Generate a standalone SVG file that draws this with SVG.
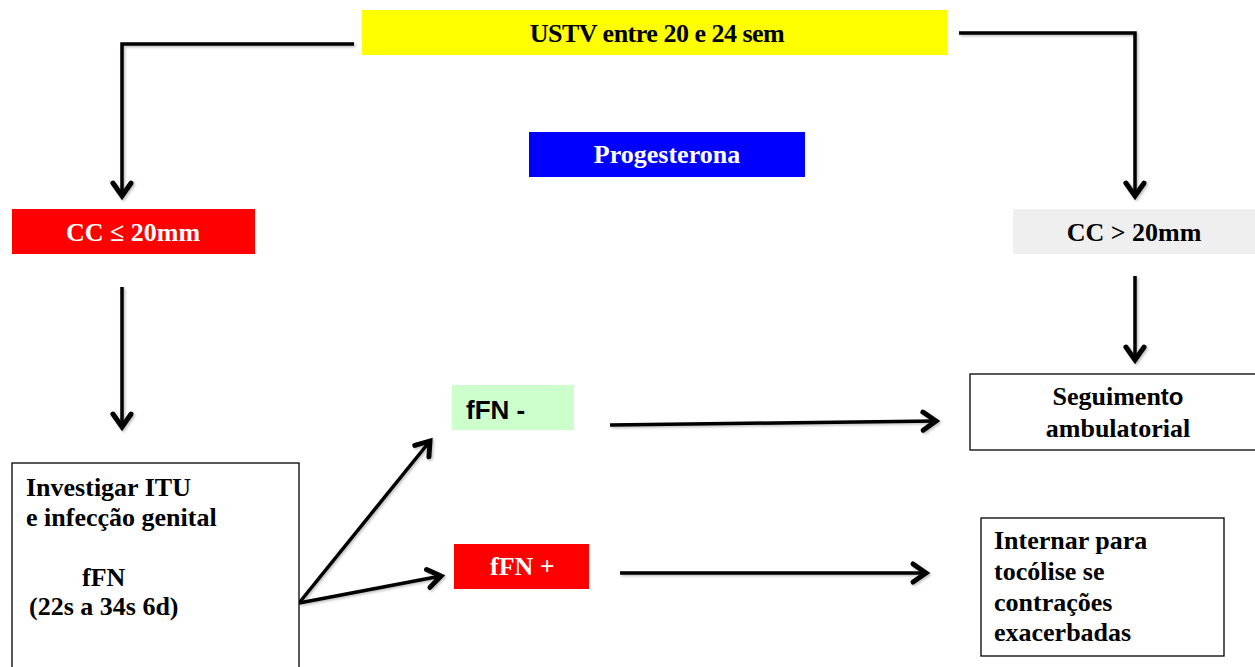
<svg xmlns="http://www.w3.org/2000/svg" width="1255" height="667" viewBox="0 0 1255 667">
  <style>
    .t { font-family: "Liberation Serif", "Times New Roman", serif; font-weight: bold; font-size: 26px; }
    .s { font-family: "Liberation Sans", Arial, sans-serif; font-weight: bold; }
    .w { fill: #ffffff; }
    .k { fill: #000000; }
    .box { stroke: #000; stroke-width: 1.3; fill: #fff; }
    .line { fill: none; stroke: #000; stroke-width: 3.5; stroke-linejoin: miter; }
  </style>
  <defs>
    <marker id="arrow" markerUnits="userSpaceOnUse" markerWidth="26" markerHeight="26" refX="14" refY="10" orient="auto" viewBox="0 0 20 20">
      <polyline points="4,3 14,10 4,17" fill="none" stroke="#000" stroke-width="3.8" stroke-linecap="round" stroke-linejoin="miter"/>
    </marker>
    <filter id="shadow" x="-5%" y="-5%" width="110%" height="110%">
      <feDropShadow dx="1.5" dy="1.5" stdDeviation="1" flood-color="#000" flood-opacity="0.25"/>
    </filter>
  </defs>

  <rect width="1255" height="667" fill="#fff"/>

  <g id="connectors" filter="url(#shadow)">
    <path class="line" d="M354,44 H122 V196" marker-end="url(#arrow)"/>
    <path class="line" d="M959,33 H1135 V196" marker-end="url(#arrow)"/>
    <path class="line" d="M122,287 V427" marker-end="url(#arrow)"/>
    <path class="line" d="M1135,276 V360" marker-end="url(#arrow)"/>
    <path class="line" d="M299,603 L430,441" marker-end="url(#arrow)"/>
    <path class="line" d="M299,603 L441,576" marker-end="url(#arrow)"/>
    <path class="line" d="M610,425 L936,421" marker-end="url(#arrow)"/>
    <path class="line" d="M620,573 L926,573" marker-end="url(#arrow)"/>
  </g>

  <g id="ustv">
    <rect x="362" y="10" width="585" height="45" fill="#ffff00"/>
    <text class="t k" x="657" y="42" text-anchor="middle" letter-spacing="-0.5">USTV entre 20 e 24 sem</text>
  </g>

  <g id="progesterona">
    <rect x="529" y="132" width="276" height="45" fill="#0000ff"/>
    <text class="t w" x="667" y="163" text-anchor="middle">Progesterona</text>
  </g>

  <g id="cc-menor">
    <rect x="12" y="209" width="243" height="45" fill="#ff0000"/>
    <text class="t w" x="133" y="241" text-anchor="middle">CC ≤ 20mm</text>
  </g>

  <g id="cc-maior">
    <rect x="1013" y="209" width="242" height="45" fill="#efefef"/>
    <text class="t k" x="1134" y="241" text-anchor="middle">CC &gt; 20mm</text>
  </g>

  <g id="investigar">
    <rect class="box" x="12" y="463" width="287" height="210"/>
    <text class="t k" x="26" y="496">Investigar ITU</text>
    <text class="t k" x="26" y="526">e infecção genital</text>
    <text class="t k" x="82" y="586">fFN</text>
    <text class="t k" x="29" y="615">(22s a 34s 6d)</text>
  </g>

  <g id="ffn-neg">
    <rect x="452" y="385" width="122" height="45" fill="#ccffcc"/>
    <text class="s k" x="466" y="419" font-size="26">fFN -</text>
  </g>

  <g id="ffn-pos">
    <rect x="454" y="544" width="135" height="45" fill="#ff0000"/>
    <text class="t w" x="490" y="575">fFN +</text>
  </g>

  <g id="seguimento">
    <rect class="box" x="970" y="374" width="290" height="76"/>
    <text class="t k" x="1118" y="405" text-anchor="middle">Seguimen<tspan class="s" font-size="24">to</tspan></text>
    <text class="t k" x="1118" y="437" text-anchor="middle">ambulatorial</text>
  </g>

  <g id="internar">
    <rect class="box" x="981" y="518" width="243" height="138"/>
    <text class="t k" x="994" y="549">Internar para</text>
    <text class="t k" x="994" y="580">tocólise se</text>
    <text class="t k" x="994" y="611">contrações</text>
    <text class="t k" x="994" y="641">exacerbadas</text>
  </g>
</svg>
